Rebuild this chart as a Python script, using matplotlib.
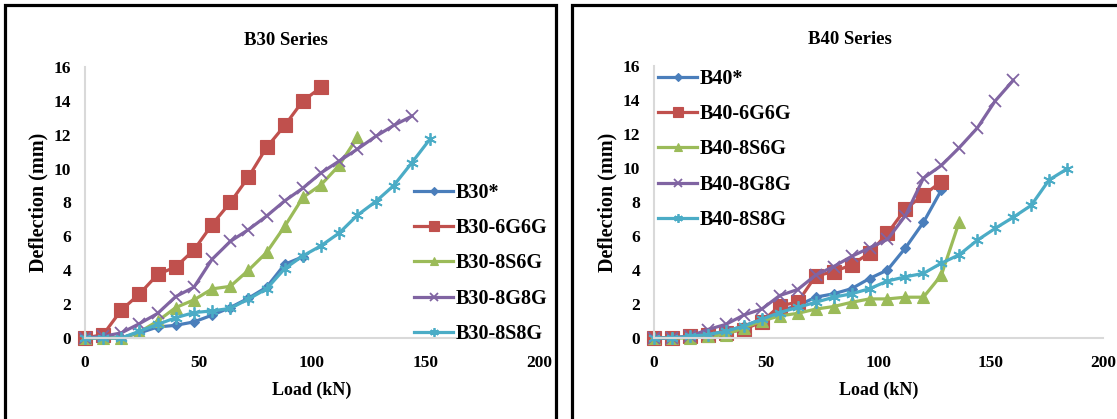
import matplotlib
matplotlib.use("Agg")
import matplotlib.pyplot as plt
from matplotlib.patches import Rectangle

plt.rcParams['font.family'] = ['Liberation Serif', 'DejaVu Serif']
plt.rcParams['font.weight'] = 'bold'

# ---- data (load in kN, deflection in mm) ----
b30_load = [0, 8, 16, 24, 32, 40, 48, 56, 64, 72, 80, 88, 96, 104, 112, 120, 128, 136, 144, 152]
b30_ref = [0, 0, 0, 0.3, 0.65, 0.75, 0.95, 1.35, 1.8, 2.35, 3.0, 4.35, 4.8]
b30_6g6g = [0, 0.2, 1.65, 2.6, 3.75, 4.2, 5.2, 6.7, 8.0, 9.5, 11.25, 12.55, 14.0, 14.8]
b30_8s6g = [0, 0, 0, 0.35, 1.0, 1.8, 2.25, 2.9, 3.05, 4.0, 5.05, 6.6, 8.3, 9.05, 10.2, 11.85]
b30_8g8g = [0, 0.1, 0.3, 0.85, 1.45, 2.45, 3.0, 4.65, 5.7, 6.4, 7.2, 8.1, 8.85, 9.75, 10.45, 11.15, 11.9, 12.55, 13.1]
b30_8s8g = [0, 0, 0, 0.4, 0.8, 1.2, 1.5, 1.6, 1.75, 2.3, 2.9, 4.1, 4.85, 5.45, 6.2, 7.25, 8.05, 9.0, 10.35, 11.75]

b40_load = [0, 8, 16, 24, 32, 40, 48, 56, 64, 72, 80, 88, 96, 104, 112, 120, 128, 136, 144, 152, 160, 168, 176, 184]
b40_ref = [0, 0, 0.1, 0.2, 0.4, 0.7, 1.1, 1.6, 1.9, 2.4, 2.6, 2.9, 3.5, 4.0, 5.3, 6.8, 8.7]
b40_6g6g = [0, 0, 0.1, 0.2, 0.3, 0.5, 0.95, 1.9, 2.1, 3.65, 3.9, 4.3, 5.0, 6.15, 7.6, 8.4, 9.2]
b40_8s6g = [0, 0, 0, 0.1, 0.2, 0.6, 1.0, 1.3, 1.45, 1.7, 1.85, 2.1, 2.3, 2.3, 2.4, 2.4, 3.7, 6.85]
b40_8g8g = [0, 0, 0.1, 0.5, 0.8, 1.35, 1.7, 2.5, 2.85, 3.7, 4.2, 4.8, 5.3, 5.8, 7.2, 9.4, 10.15, 11.2, 12.35, 13.95, 15.15]
b40_8s8g = [0, 0, 0.1, 0.2, 0.4, 0.7, 1.1, 1.5, 1.8, 2.1, 2.4, 2.6, 2.9, 3.35, 3.6, 3.8, 4.4, 4.9, 5.75, 6.45, 7.1, 7.8, 9.3, 9.95]

b30_labels = ['B30*', 'B30-6G6G', 'B30-8S6G', 'B30-8G8G', 'B30-8S8G']
b40_labels = ['B40*', 'B40-6G6G', 'B40-8S6G', 'B40-8G8G', 'B40-8S8G']

colors = ['#4A7EBB', '#C0504D', '#9BBB59', '#8064A2', '#4BACC6']
markers = ['D', 's', '^', 'x', (6, 2, 0)]
msizes = [5.5, 9.5, 8, 9, 9]

W, H = 1117, 419
fig = plt.figure(figsize=(W / 100, H / 100), dpi=100)

# panel borders
for x0, x1 in [(5, 556), (572, 1130)]:
    fig.patches.append(Rectangle((x0 / W, -0.1), (x1 - x0) / W, 1.1 - 5 / H,
                                 transform=fig.transFigure, fill=False,
                                 edgecolor='black', linewidth=2.3))


def draw(rect, load, series, labels, title, title_x, leg_anchor):
    ax = fig.add_axes(rect)
    for ys, lab, c, m, ms in zip(series, labels, colors, markers, msizes):
        ax.plot(load[:len(ys)], ys, color=c, lw=2.3, marker=m, markersize=ms,
                markeredgewidth=1.3 if m in ('x', (6, 2, 0)) else 0.8,
                markeredgecolor=c, label=lab, clip_on=False)
    ax.set_xlim(0, 200)
    ax.set_ylim(0, 16)
    ax.set_xticks([0, 50, 100, 150, 200])
    ax.set_yticks(range(0, 17, 2))
    for s in ['top', 'right']:
        ax.spines[s].set_visible(False)
    for s in ['left', 'bottom']:
        ax.spines[s].set_color('#d9d9d9')
        ax.spines[s].set_linewidth(1.5)
    ax.tick_params(length=0, labelsize=12.5)
    ax.tick_params(axis='y', pad=10)
    ax.tick_params(axis='x', pad=12)
    ax.set_xlabel('Load (kN)', fontsize=13, fontweight='bold', labelpad=8)
    ax.set_ylabel('Deflection (mm)', fontsize=14.5, fontweight='bold', labelpad=4)
    ax.set_title(title, fontsize=13.5, fontweight='bold', x=title_x, pad=16)
    ax.legend(loc='center left', bbox_to_anchor=leg_anchor,
              bbox_transform=fig.transFigure, frameon=False,
              fontsize=14.5, handlelength=1.95, handletextpad=0.1,
              labelspacing=0.75, borderpad=0, borderaxespad=0,
              markerscale=0.7)
    return ax


draw([85 / W, 1 - 338 / H, 454 / W, 271 / H], b30_load,
     [b30_ref, b30_6g6g, b30_8s6g, b30_8g8g, b30_8s8g], b30_labels,
     'B30 Series', 0.443, (414 / W, 1 - 263.5 / H))
draw([654 / W, 1 - 338 / H, 449 / W, 272 / H], b40_load,
     [b40_ref, b40_6g6g, b40_8s6g, b40_8g8g, b40_8s8g], b40_labels,
     'B40 Series', 0.437, (658 / W, 1 - 149.5 / H))

fig.savefig('out.png', dpi=100)
